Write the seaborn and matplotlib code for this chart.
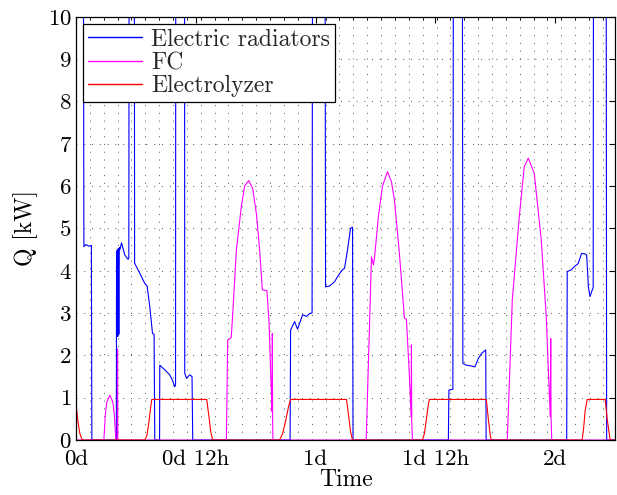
import matplotlib
matplotlib.use("Agg")
import matplotlib.pyplot as plt
import seaborn as sns
import pandas as pd
import numpy as np
from matplotlib.ticker import MultipleLocator

# time in hours, heat in kW (values above 10 are off the chart)
rad_t = [0, 0.75, 0.8, 1.0, 1.3, 1.55, 1.6,
         4.05, 4.07, 4.1, 4.15, 4.2, 4.25, 4.3, 4.35, 4.4, 4.57, 4.9, 5.23, 5.3, 5.33,
         5.85, 5.88, 6.4, 6.9, 7.13, 7.4, 7.67, 7.83, 7.9,
         8.38, 8.4, 9.07, 9.4, 9.73, 9.9, 9.98, 10.0, 10.88, 10.9, 11.07, 11.4, 11.63, 11.7,
         21.45, 21.5, 21.9, 22.2, 22.7, 23.1, 23.4, 23.65, 23.7, 24.95, 25.0, 25.4, 25.9,
         26.2, 26.6, 26.9, 27.2, 27.5, 27.7, 27.75,
         37.3, 37.35, 37.75, 37.8, 38.7, 38.75, 39.1, 39.6, 39.96, 40.3, 40.64, 41.04, 41.08,
         49.15, 49.2, 49.6, 49.96, 50.3, 50.64, 50.98, 51.15, 51.32, 51.48, 51.65, 51.8,
         51.83, 53.1, 53.15, 54]
rad_q = [12, 12, 4.57, 4.62, 4.58, 4.6, 0,
         0, 4.45, 2.45, 4.5, 2.45, 4.52, 2.5, 4.55, 4.5, 4.66, 4.37, 4.27, 4.3, 12,
         12, 4.18, 3.94, 3.7, 3.64, 3.15, 2.52, 2.5, 0,
         0, 1.77, 1.62, 1.54, 1.38, 1.26, 1.3, 12, 12, 1.58, 1.46, 1.54, 1.5, 0,
         0, 2.6, 2.8, 2.62, 2.96, 2.92, 2.99, 3.0, 12, 12, 3.62, 3.64, 3.74,
         3.86, 4.0, 4.06, 4.49, 5.0, 5.03, 0,
         0, 1.18, 1.2, 12, 12, 1.81, 1.77, 1.75, 1.73, 1.93, 2.05, 2.13, 0,
         0, 3.98, 4.02, 4.11, 4.17, 4.41, 4.4, 4.37, 3.62, 3.39, 3.51, 3.6,
         12, 12, 0, 0]

fc_t = [0, 2.8, 2.95, 3.1, 3.4, 3.7, 3.85, 4.0, 4.15, 4.17, 4.2,
        15.07, 15.2, 15.55, 15.67, 16.07, 16.57, 16.9, 17.3, 17.7, 18.07, 18.4, 18.67,
        19.13, 19.33, 19.55, 19.65, 19.67, 19.7, 19.73,
        29.07, 29.6, 29.8, 29.9, 30.3, 30.7, 31.2, 31.6, 31.9, 32.4, 32.9, 33.1, 33.4,
        33.57, 33.6, 33.63, 33.7,
        43.2, 43.7, 44.4, 44.9, 45.3, 45.9, 46.6, 47.1, 47.5, 47.55, 47.58, 47.65, 54]
fc_q = [0, 0, 0.6, 0.9, 1.06, 0.9, 0.6, 0, 0, 2.15, 0,
        0, 2.36, 2.42, 2.84, 4.49, 5.52, 6.0, 6.13, 5.95, 5.36, 4.49, 3.55,
        3.53, 2.84, 1.3, 0.67, 2.52, 0.5, 0,
        0, 4.33, 4.14, 4.3, 5.3, 6.0, 6.34, 6.1, 5.67, 4.4, 2.88, 2.85, 1.5,
        0.55, 2.25, 0.43, 0,
        0, 3.31, 5.28, 6.46, 6.66, 6.3, 4.73, 2.92, 0.55, 2.4, 0.55, 0, 0]

ely_t = [0, 0.2, 0.4, 0.6, 0.7, 6.9, 7.1, 7.3, 7.5, 7.6, 13.1, 13.3, 13.5, 13.7,
         20.4, 20.7, 21.0, 21.3, 21.5, 27.1, 27.3, 27.5, 27.7,
         34.7, 34.9, 35.1, 35.3, 35.4, 41.1, 41.3, 41.5, 41.6,
         50.7, 50.85, 51.0, 51.2, 53.0, 53.2, 53.5, 54]
ely_q = [0.87, 0.45, 0.15, 0.02, 0, 0, 0.1, 0.4, 0.8, 0.96, 0.96, 0.6, 0.2, 0,
         0, 0.15, 0.45, 0.8, 0.96, 0.96, 0.6, 0.2, 0,
         0, 0.15, 0.5, 0.85, 0.96, 0.96, 0.5, 0.1, 0,
         0, 0.3, 0.7, 0.96, 0.96, 0.5, 0, 0]

series = ["Electric radiators", "FC", "Electrolyzer"]
colors = ["#0000ff", "#ff00ff", "#ff0000"]

df = pd.concat([
    pd.DataFrame({"t": rad_t, "Q": rad_q, "s": series[0]}),
    pd.DataFrame({"t": fc_t, "Q": fc_q, "s": series[1]}),
    pd.DataFrame({"t": ely_t, "Q": ely_q, "s": series[2]}),
], ignore_index=True)

sns.set_theme(style="white")
plt.rcParams["font.family"] = "serif"
plt.rcParams["font.serif"] = ["cmr10", "DejaVu Serif"]
plt.rcParams["axes.formatter.use_mathtext"] = True
plt.rcParams["mathtext.fontset"] = "cm"

fig = plt.figure(figsize=(6.17, 4.95), dpi=100)
ax = fig.add_axes([0.123, 0.111, 0.874, 0.855])

sns.lineplot(data=df, x="t", y="Q", hue="s", palette=dict(zip(series, colors)),
             sort=False, estimator=None, linewidth=0.8, ax=ax)

ax.set_xlim(0, 54)
ax.set_ylim(0, 10)
ax.set_xticks([0, 12, 24, 36, 48])
ax.set_xticklabels(["0d", "0d 12h", "1d", "1d 12h", "2d"])
ax.xaxis.set_minor_locator(MultipleLocator(5000 / 3600))
ax.set_yticks(range(0, 11))
ax.tick_params(which="both", direction="in", top=True, right=True,
               labelsize=16.5, colors="black")
ax.tick_params(which="major", length=4, width=0.8, pad=3)
ax.tick_params(axis="x", which="major", pad=7)
ax.tick_params(which="minor", length=2.5, width=0.6)
ax.grid(which="minor", axis="x", color="#555555", linestyle=(0, (1, 7)), linewidth=0.7)
ax.grid(which="major", axis="y", color="#555555", linestyle=(0, (1, 7)), linewidth=0.7)
for sp in ax.spines.values():
    sp.set_color("black")
    sp.set_linewidth(0.9)

ax.set_xlabel("Time", fontsize=17, color="black", labelpad=0)
ax.set_ylabel("Q [kW]", fontsize=17, color="black", labelpad=7)

leg = ax.legend(loc="upper left", fontsize=17, frameon=True, fancybox=False,
                edgecolor="black", framealpha=1, handlelength=2.3, handletextpad=0.4,
                borderaxespad=0.3, borderpad=0.2, labelspacing=0.05)
leg.get_frame().set_linewidth(0.9)
for line in leg.get_lines():
    line.set_linewidth(1.0)

fig.savefig("out.png", dpi=100)
